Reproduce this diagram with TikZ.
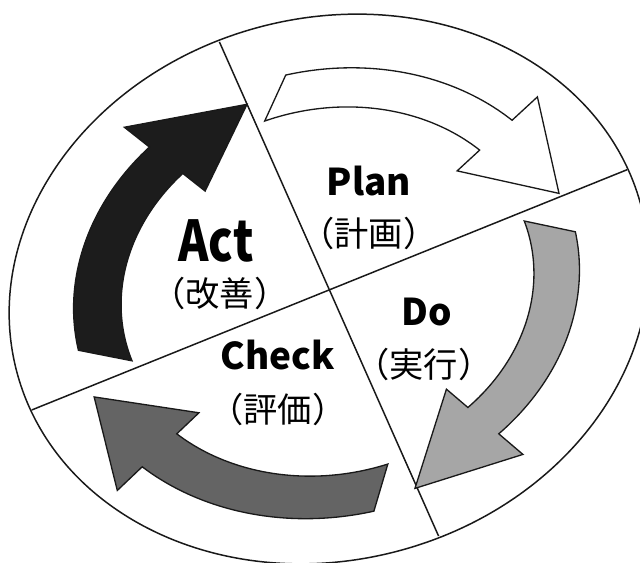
\documentclass[tikz,border=0pt]{standalone}
\usepackage{fontspec}
\setmainfont{Noto Sans CJK JP}
\usepackage{tikz}
\usetikzlibrary{positioning}
\definecolor{actfill}{HTML}{1C1C1C}
\definecolor{dofill}{HTML}{A6A6A6}
\definecolor{chkfill}{HTML}{646464}
% one curved arrow of the cycle, in the squashed frame of the ellipse
% #1 fill, #2/#3 outer/inner tail angle, #4 neck angle, #5 tip angle,
% #6/#7 inner/outer radius, #8 tip radius
\newcommand{\cyclearrow}[8]{%
  \draw[cyc, fill=#1] (#2:#7) arc[start angle=#2, end angle=#4, radius=#7]
    -- (#4:{#7+36}) -- (#5:#8) -- (#4:{#6-32})
    -- (#4:#6) arc[start angle=#4, end angle=#3, radius=#6] -- cycle;}
\tikzset{
  rim/.style={draw=black!90, line width=0.85pt},
  cyc/.style={draw=black!90, line width=0.75pt, line join=miter},
  stage/.style={font=\bfseries\fontsize{21}{21}\selectfont, inner sep=0pt},
  jp/.style={font=\fontsize{19.5}{19.5}\selectfont, inner sep=0pt}
}

\begin{document}
\begin{tikzpicture}[x=0.02cm, y=0.02cm]
\useasboundingbox (-329,-274) rectangle (311,289);
\begin{scope}[rotate=15, yscale=0.839]
  \draw[rim] (0,0) circle[radius=323];
  \coordinate (top) at (97.5:321);
  \coordinate (bot) at (-82.5:321);
  \coordinate (lft) at (188.5:322);
  \coordinate (rgt) at (8.1:322);
  \draw[rim] (top) -- (bot);
  \draw[rim] (lft) -- (rgt);
  % plan, do, check, act
  \cyclearrow{white}{87}{95}{32}{9}{214}{260}{250}
  \cyclearrow{dofill}{-2.3}{5}{-60}{-83}{207}{253}{258}
  \cyclearrow{chkfill}{-93}{-87}{-147}{-168.5}{220}{270}{260}
  \cyclearrow{actfill}{178.5}{186}{122}{97.5}{210}{258}{240}
\end{scope}
\node[stage] (plan) at (40,108) {Plan};
\node[jp] (planjp) at (40,56) {（計画）};
\node[stage, font=\bfseries\fontsize{32}{32}\selectfont] (act) at (-113,48) {\scalebox{0.82}[1]{Act}};
\node[jp] (actjp) at (-109,-4) {（改善）};
\node[stage] (do) at (98,-23) {Do};
\node[jp] (dojp) at (95,-75) {（実行）};
\node[stage] (check) at (-51,-66) {Check};
\node[jp] (checkjp) at (-51,-120) {（評価）};
\end{tikzpicture}
\end{document}
